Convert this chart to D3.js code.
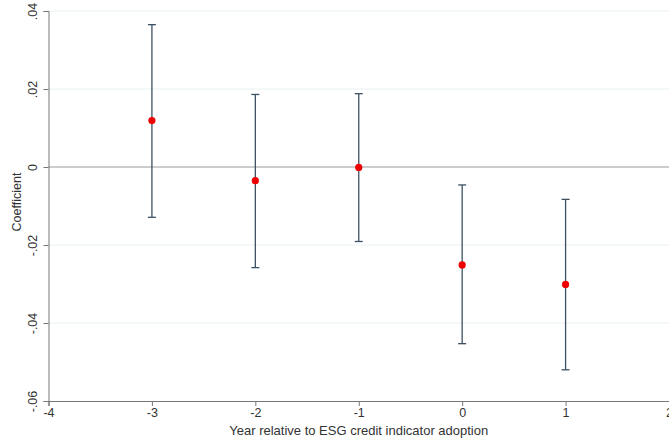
<!DOCTYPE html>
<html>
<head>
<meta charset="utf-8">
<script src="https://cdn.jsdelivr.net/npm/d3@7"></script>
<style>
  body { margin: 0; background: #fff; }
  text { font-family: "Liberation Sans", Arial, sans-serif; fill: #333; }
</style>
</head>
<body>
<svg width="669" height="441"></svg>
<script>
// event-time coefficients with 95% CI
var years = [-3, -2, -1, 0, 1];
var coef  = [0.0119, -0.0035, -0.0001, -0.0251, -0.0301];
var lower = [-0.0129, -0.0258, -0.0191, -0.0453, -0.0520];
var upper = [0.0365, 0.0186, 0.0188, -0.0046, -0.0083];
var xTicks = [-4, -3, -2, -1, 0, 1, 2];
var yTicks = [-0.06, -0.04, -0.02, 0, 0.02, 0.04];
var yTickLabels = ["-.06", "-.04", "-.02", "0", ".02", ".04"];

function main() {
    var svg = d3.select("svg");

    var x = d3.scaleLinear().domain([-4, 2]).range([48.5, 669]);
    var y = d3.scaleLinear().domain([-0.06, 0.04]).range([401, 11]);

    // gridlines
    svg.append("g").selectAll("line")
       .data(yTicks.filter(function(d) { return d !== 0 && d !== -0.06; }))
       .enter().append("line")
       .attr("x1", x(-4)).attr("x2", x(2))
       .attr("y1", function(d) { return y(d); })
       .attr("y2", function(d) { return y(d); })
       .attr("stroke", "#e6f0f2").attr("stroke-width", 1);

    // zero reference line
    svg.append("line")
       .attr("x1", x(-4)).attr("x2", x(2))
       .attr("y1", y(0)).attr("y2", y(0))
       .attr("stroke", "#9a9a9a").attr("stroke-width", 1);

    // axes
    var yAxis = d3.axisLeft(y).tickValues(yTicks)
                  .tickFormat(function(d, i) { return yTickLabels[i]; })
                  .tickSize(5).tickPadding(3);
    var gy = svg.append("g").attr("transform", "translate(" + x(-4) + ",0)").call(yAxis);
    gy.select(".domain").attr("stroke", "#777");
    gy.selectAll(".tick line").attr("stroke", "#777");
    gy.selectAll(".tick text")
      .attr("font-size", 12.5)
      .attr("fill", "#333")
      .attr("text-anchor", "middle")
      .attr("transform", "translate(-16,0) rotate(-90)")
      .attr("x", 0).attr("dy", "0.35em");

    // plain hyphen minus like the original
    var xAxis = d3.axisBottom(x).tickValues(xTicks)
                  .tickFormat(function(d) { return String(d); })
                  .tickSize(5).tickPadding(2);
    var gx = svg.append("g").attr("transform", "translate(0," + y(-0.06) + ")").call(xAxis);
    gx.select(".domain").attr("stroke", "#777");
    gx.selectAll(".tick line").attr("stroke", "#777");
    gx.selectAll(".tick text").attr("font-size", 12.5).attr("fill", "#333");

    // axis titles
    svg.append("text")
       .attr("x", (x(-4) + x(2)) / 2).attr("y", 435)
       .attr("text-anchor", "middle").attr("font-size", 13)
       .text("Year relative to ESG credit indicator adoption");
    svg.append("text")
       .attr("transform", "translate(21,202) rotate(-90)")
       .attr("text-anchor", "middle").attr("font-size", 12.5)
       .text("Coefficient");

    // error bars
    var ci = svg.append("g").selectAll("g")
       .data(years).enter().append("g");
    ci.append("line")
      .attr("x1", function(d) { return x(d); }).attr("x2", function(d) { return x(d); })
      .attr("y1", function(d, i) { return y(lower[i]); })
      .attr("y2", function(d, i) { return y(upper[i]); })
      .attr("stroke", "#3d5163").attr("stroke-width", 1.3);
    ci.append("line")
      .attr("x1", function(d) { return x(d) - 4; }).attr("x2", function(d) { return x(d) + 4; })
      .attr("y1", function(d, i) { return y(upper[i]); })
      .attr("y2", function(d, i) { return y(upper[i]); })
      .attr("stroke", "#3d5163").attr("stroke-width", 1.3);
    ci.append("line")
      .attr("x1", function(d) { return x(d) - 4; }).attr("x2", function(d) { return x(d) + 4; })
      .attr("y1", function(d, i) { return y(lower[i]); })
      .attr("y2", function(d, i) { return y(lower[i]); })
      .attr("stroke", "#3d5163").attr("stroke-width", 1.3);

    // point estimates
    svg.append("g").selectAll("circle")
       .data(years).enter().append("circle")
       .attr("cx", function(d) { return x(d); })
       .attr("cy", function(d, i) { return y(coef[i]); })
       .attr("r", 3.6)
       .attr("fill", "#ee0000");
}
main();
</script>
</body>
</html>
